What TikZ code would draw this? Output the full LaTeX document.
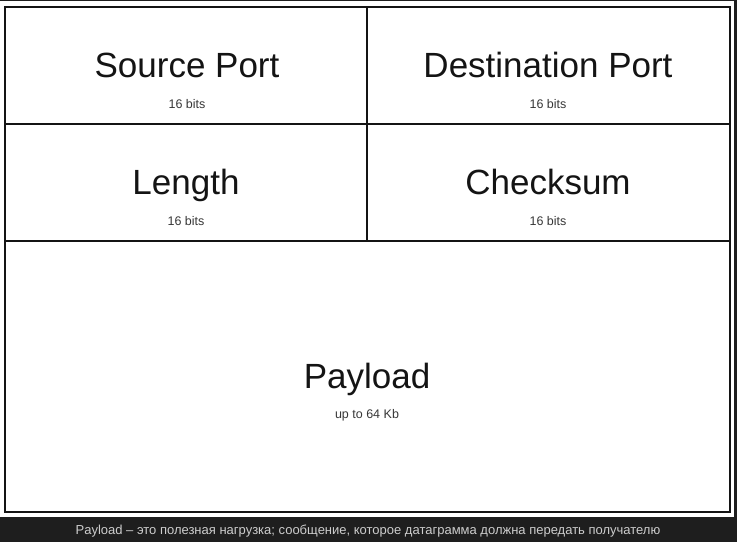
\documentclass[tikz,border=0pt]{standalone}
\usepackage{fontspec}
\setmainfont{Liberation Sans}
\usepackage{tikz}
\usetikzlibrary{positioning,calc}
\definecolor{tinta}{RGB}{20,20,20}
\definecolor{barra}{RGB}{30,30,30}
\definecolor{texbarra}{RGB}{205,205,205}

\begin{document}
\begin{tikzpicture}[x=1pt,y=-1pt,
  campo/.style={draw=tinta,line width=1.9pt,minimum width=#1,inner sep=0pt},
  titulo/.style={text=tinta,font=\fontsize{35}{40}\selectfont,anchor=base},
  bits/.style={text=tinta!85,font=\fontsize{12.5}{14}\selectfont,anchor=base}]
\useasboundingbox (0,0) rectangle (737,542);
\fill[white] (0,0) rectangle (737,517);
\fill[barra] (0,0) rectangle (737,1.2);
\fill[barra] (734,0) rectangle (737,517);
\fill[barra] (0,517) rectangle (737,542);
% cabecera UDP
\node[campo=362,minimum height=117] (srcport) at (186,65.5) {};
\node[campo=363,minimum height=117] (dstport) at (548.5,65.5) {};
\node[campo=362,minimum height=117] (length) at (186,182.5) {};
\node[campo=363,minimum height=117] (checksum) at (548.5,182.5) {};
\node[campo=725,minimum height=271] (payload) at (367.5,376.5) {};
% textos
\node[titulo] (srcporttxt) at (187,77) {Source Port};
\node[bits] (srcportbits) at (187,108) {16 bits};
\node[titulo] (dstporttxt) at (548,77) {Destination Port};
\node[bits] (dstportbits) at (548,108) {16 bits};
\node[titulo] (lengthtxt) at (186,194) {Length};
\node[bits] (lengthbits) at (186,225) {16 bits};
\node[titulo] (checksumtxt) at (548,194) {Checksum};
\node[bits] (checksumbits) at (548,225) {16 bits};
\node[titulo] (payloadtxt) at (367,388) {Payload};
\node[bits] (payloadbits) at (367,418) {up to 64 Kb};
% pie
\node[text=texbarra,font=\fontsize{13}{15}\selectfont,anchor=base] (pie) at (368,534)
  {Payload – это полезная нагрузка; сообщение, которое датаграмма должна передать получателю};
\end{tikzpicture}
\end{document}
